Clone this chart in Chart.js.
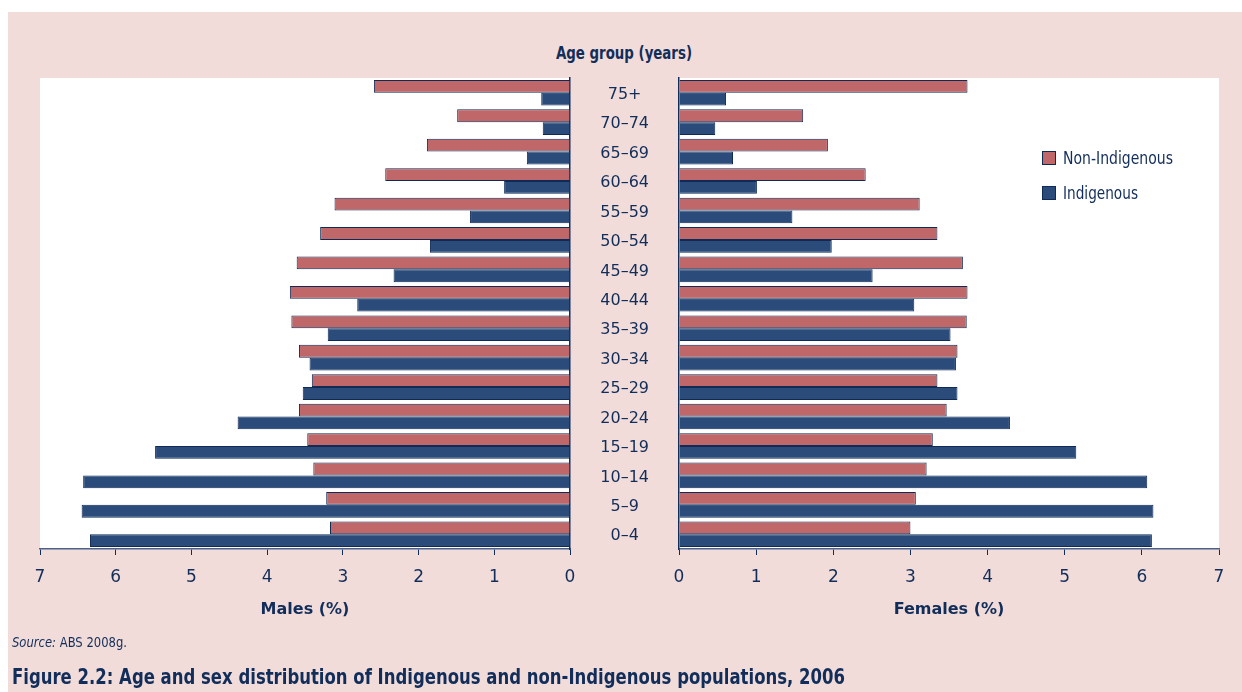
<!DOCTYPE html>
<html>
<head>
<meta charset="utf-8">
<script src="https://cdn.jsdelivr.net/npm/chart.js@4/dist/chart.umd.min.js"></script>
<style>
  html, body { margin: 0; padding: 0; background: #fff; }
  body { width: 1242px; height: 692px; position: relative; overflow: hidden;
         font-family: "DejaVu Sans", sans-serif; font-stretch: condensed; color: #112d5a; }
  .panel { position: absolute; left: 8px; top: 12px; right: 0; bottom: 0; background: #f1dcd9; }
  .box { position: absolute; top: 0; }
  #leftBox { left: 0; }
  #rightBox { left: 570px; }
  .fit { position: absolute; white-space: nowrap; transform-origin: 0 0; }
  .heading { top: 42px; left: 556px; font-weight: bold; font-size: 18px; }
  .legend { position: absolute; left: 1042px; top: 146px; font-size: 18px; }
  .legend div { position: relative; height: 35px; line-height: 24px; white-space: nowrap; }
  .legend span.key { display: inline-block; width: 12px; height: 12px; border: 1px solid #0f2a55;
                 position: absolute; left: 0; top: 5px; }
  .legend span.fit { left: 21px; top: 0; }
  .source { left: 12px; top: 634px; font-size: 14px; }
  .caption { left: 12px; top: 665px; font-size: 21px; font-weight: bold; }
</style>
</head>
<body>
<div class="panel"></div>
<div class="fit heading" data-w="136">Age group (years)</div>
<div class="box" id="leftBox"><canvas id="males" width="600" height="692"></canvas></div>
<div class="box" id="rightBox"><canvas id="females" width="672" height="692"></canvas></div>
<div class="legend" id="legend"></div>
<div class="fit source" data-w="115"><i>Source:</i> ABS 2008g.</div>
<div class="fit caption" data-w="833">Figure 2.2: Age and sex distribution of Indigenous and non-Indigenous populations, 2006</div>
<script>
// Age groups, youngest first (the axis is reversed so 75+ ends up on top)
const ageGroups = ['0–4', '5–9', '10–14', '15–19', '20–24', '25–29', '30–34', '35–39',
    '40–44', '45–49', '50–54', '55–59', '60–64', '65–69', '70–74', '75+'];

// Per cent of each population
const maleNonIndigenous = [3.17, 3.22, 3.39, 3.47, 3.58, 3.41, 3.58, 3.68, 3.70, 3.61, 3.30, 3.11, 2.44, 1.89, 1.49, 2.59];
const maleIndigenous = [6.34, 6.45, 6.43, 5.48, 4.39, 3.53, 3.44, 3.20, 2.81, 2.33, 1.85, 1.32, 0.87, 0.57, 0.36, 0.38];
const femaleNonIndigenous = [3.00, 3.07, 3.21, 3.29, 3.47, 3.35, 3.61, 3.73, 3.74, 3.68, 3.35, 3.12, 2.42, 1.93, 1.61, 3.74];
const femaleIndigenous = [6.13, 6.15, 6.07, 5.15, 4.29, 3.61, 3.59, 3.52, 3.05, 2.51, 1.98, 1.47, 1.01, 0.70, 0.47, 0.61];

const seriesNames = ['Non-Indigenous', 'Indigenous'];
const legendWidths = [110, 75];
const xTicks = [0, 1, 2, 3, 4, 5, 6, 7];

const NAVY = '#112d5a';
const FONT = '"DejaVu Sans", sans-serif';
const colours = ['#bf6769', '#2b4c7b'];

// white plot background
const plotBackground = {
    id: 'plotBackground',
    beforeDraw(chart) {
        const a = chart.chartArea;
        chart.ctx.save();
        chart.ctx.fillStyle = '#ffffff';
        chart.ctx.fillRect(a.left, a.top, a.right - a.left, a.bottom - a.top);
        chart.ctx.restore();
    }
};

function makeDatasets(nonIndig, indig) {
    return [nonIndig, indig].map((values, i) => ({
        label: seriesNames[i],
        data: values,
        backgroundColor: colours[i],
        borderColor: '#0f2a55',
        borderWidth: 1,
        categoryPercentage: 0.87,
        barPercentage: 1.0,
    }));
}

function xAxis(title, reverse) {
    return {
        type: 'linear',
        min: 0,
        max: 7,
        reverse: reverse,
        afterBuildTicks: (scale) => { scale.ticks = xTicks.map(v => ({ value: v })); },
        afterFit: (scale) => { scale.height = 71; },
        grid: { drawOnChartArea: false, drawTicks: true, tickLength: 6, color: NAVY },
        border: { display: true, color: '#4a6189', width: 1.5 },
        ticks: { color: NAVY, padding: 12, font: { family: FONT, size: 17 } },
        title: { display: true, text: title, color: NAVY, padding: { top: 0, bottom: 1 },
                 font: { family: FONT, size: 16, weight: 'bold' } }
    };
}

function baseOptions() {
    return {
        indexAxis: 'y',
        responsive: false,
        animation: false,
        plugins: { legend: { display: false }, tooltip: { enabled: false } },
    };
}

// Males, bars growing to the left
const maleOptions = baseOptions();
maleOptions.layout = { padding: { left: 40, right: 30, top: 78, bottom: 72 } };
maleOptions.scales = {
    x: xAxis('Males (%)', true),
    y: {
        type: 'category',
        reverse: true,
        position: 'right',
        afterFit: (scale) => { scale.width = 0; },
        grid: { display: false, drawTicks: false },
        border: { display: true, color: NAVY, width: 1.5 },
        ticks: { display: false }
    }
};
new Chart(document.getElementById('males'), {
    type: 'bar',
    data: { labels: ageGroups, datasets: makeDatasets(maleNonIndigenous, maleIndigenous) },
    options: maleOptions,
    plugins: [plotBackground]
});

// Females, with the age labels on the shared middle axis
const femaleOptions = baseOptions();
femaleOptions.layout = { padding: { left: 0, right: 23, top: 78, bottom: 72 } };
femaleOptions.scales = {
    x: xAxis('Females (%)', false),
    y: {
        type: 'category',
        reverse: true,
        position: 'left',
        afterFit: (scale) => { scale.width = 109; },
        grid: { display: false, drawTicks: false },
        border: { display: true, color: NAVY, width: 1.5 },
        ticks: { color: NAVY, crossAlign: 'center', padding: 30, labelOffset: 2,
                 font: { family: FONT, size: 16 } }
    }
};
new Chart(document.getElementById('females'), {
    type: 'bar',
    data: { labels: ageGroups, datasets: makeDatasets(femaleNonIndigenous, femaleIndigenous) },
    options: femaleOptions,
    plugins: [plotBackground]
});

// legend
const legend = document.getElementById('legend');
seriesNames.forEach((name, i) => {
    const row = document.createElement('div');
    row.innerHTML = '<span class="key" style="background:' + colours[i] + '"></span>' +
        '<span class="fit" data-w="' + legendWidths[i] + '">' + name + '</span>';
    legend.appendChild(row);
});

// squeeze html text to the widths of the original condensed typeface
document.querySelectorAll('.fit').forEach(el => {
    const w = el.getBoundingClientRect().width;
    el.style.transform = 'scaleX(' + (el.dataset.w / w) + ')';
});
</script>
</body>
</html>
